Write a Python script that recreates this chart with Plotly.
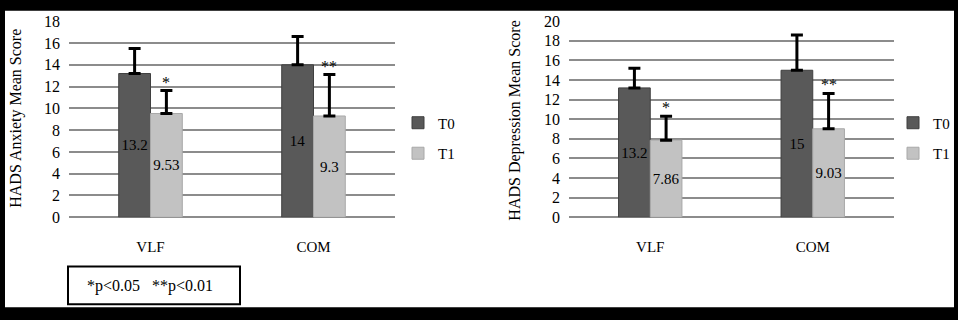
import plotly.graph_objects as go

# ---- data ----
categories = ["VLF", "COM"]
series_names = ["T0", "T1"]

anx_t0 = [13.2, 14]
anx_t1 = [9.53, 9.3]
anx_t0_err = [2.3, 2.6]
anx_t1_err = [2.1, 3.8]

dep_t0 = [13.2, 15]
dep_t1 = [7.86, 9.03]
dep_t0_err = [2.0, 3.6]
dep_t1_err = [2.45, 3.6]

sig_marks = ["*", "**"]
anx_ticks = list(range(0, 19, 2))
dep_ticks = list(range(0, 21, 2))
footnote = "*p<0.05   **p<0.01"

W, H = 958, 320
FONT = "Liberation Serif"
C_T0 = "#595959"
C_T1 = "#c2c2c2"
GRID = "#8c8c8c"
BARGAP = 0.61


def px(x):
    return x / W


def py(y):
    return 1 - y / H


fig = go.Figure()


def add_pair(t0, t1, e0, e1, xa, ya, legend):
    for name, vals, errs, col, lcol in [
        (series_names[0], t0, e0, C_T0, "#3f3f3f"),
        (series_names[1], t1, e1, C_T1, "#a8a8a8"),
    ]:
        fig.add_trace(go.Bar(
            x=categories, y=vals, name=name,
            xaxis=xa, yaxis=ya, legend=legend, legendgroup=name + legend,
            marker=dict(color=col, line=dict(color=lcol, width=1)),
            text=[f"{v:g}" for v in vals],
            textposition="inside", insidetextanchor="middle",
            constraintext="none", textangle=0, cliponaxis=False,
            textfont=dict(family=FONT, size=15, color="black"),
            error_y=dict(type="data", array=errs, arrayminus=[0] * len(errs),
                         symmetric=False, color="black", thickness=3, width=6),
        ))


add_pair(anx_t0, anx_t1, anx_t0_err, anx_t1_err, "x", "y", "legend")
add_pair(dep_t0, dep_t1, dep_t0_err, dep_t1_err, "x2", "y2", "legend2")

# significance marks above the T1 error bars
off = (1 - BARGAP) / 4
for i, cat in enumerate(categories):
    for vals, errs, xa, ya in [(anx_t1, anx_t1_err, "x", "y"), (dep_t1, dep_t1_err, "x2", "y2")]:
        fig.add_annotation(x=i + off, y=vals[i] + errs[i], xref=xa, yref=ya,
                           text=sig_marks[i], showarrow=False, yanchor="bottom",
                           xanchor="center", yshift=-2,
                           font=dict(family=FONT, size=16, color="#000000"))

axis_common = dict(showgrid=True, gridcolor=GRID, gridwidth=2, zeroline=True,
                   zerolinecolor=GRID, zerolinewidth=2, showline=False,
                   tickfont=dict(family=FONT, size=16, color="black"),
                   ticklabelstandoff=8, fixedrange=True)
xaxis_common = dict(showgrid=False, zeroline=False, showline=False,
                    tickfont=dict(family=FONT, size=15, color="black"),
                    ticklabelstandoff=19, fixedrange=True)

yd = [py(221), py(14)]
fig.update_layout(
    width=W, height=H,
    margin=dict(l=0, r=0, t=0, b=0),
    paper_bgcolor="black", plot_bgcolor="rgba(0,0,0,0)",
    barmode="group", bargap=BARGAP, bargroupgap=0,
    showlegend=True,
    xaxis=dict(domain=[px(69), px(395)], anchor="y", **xaxis_common),
    yaxis=dict(domain=yd, anchor="x", range=[0, 18], tickvals=anx_ticks, **axis_common),
    xaxis2=dict(domain=[px(569), px(894)], anchor="y2", **xaxis_common),
    yaxis2=dict(domain=yd, anchor="x2", range=[0, 20], tickvals=dep_ticks, **axis_common),
    legend=dict(x=px(398), y=py(104), xanchor="left", yanchor="top",
                bgcolor="rgba(0,0,0,0)", tracegroupgap=8,
                font=dict(family=FONT, size=15, color="black")),
    legend2=dict(x=px(893), y=py(104), xanchor="left", yanchor="top",
                 bgcolor="rgba(0,0,0,0)", tracegroupgap=8,
                 font=dict(family=FONT, size=15, color="black")),
    shapes=[
        dict(type="rect", xref="paper", yref="paper", x0=px(5), x1=px(954),
             y0=py(316), y1=py(3), fillcolor="white", line=dict(width=0), layer="below"),
        dict(type="rect", xref="paper", yref="paper", x0=px(68), x1=px(240),
             y0=py(313), y1=py(273), fillcolor="white",
             line=dict(color="black", width=2), layer="above"),
    ],
)

fig.add_annotation(x=px(150), y=py(294), xref="paper", yref="paper",
                   xanchor="center", yanchor="middle",
                   text=footnote, showarrow=False,
                   font=dict(family=FONT, size=16, color="black"))
fig.add_annotation(x=px(16), y=py(117), xref="paper", yref="paper",
                   xanchor="center", yanchor="middle",
                   text="HADS Anxiety Mean Score", textangle=-90, showarrow=False,
                   font=dict(family=FONT, size=16, color="black"))
fig.add_annotation(x=px(515), y=py(119), xref="paper", yref="paper",
                   xanchor="center", yanchor="middle",
                   text="HADS Depression Mean Score", textangle=-90, showarrow=False,
                   font=dict(family=FONT, size=16, color="black"))

fig.write_html("out.html", config={"displayModeBar": False})
